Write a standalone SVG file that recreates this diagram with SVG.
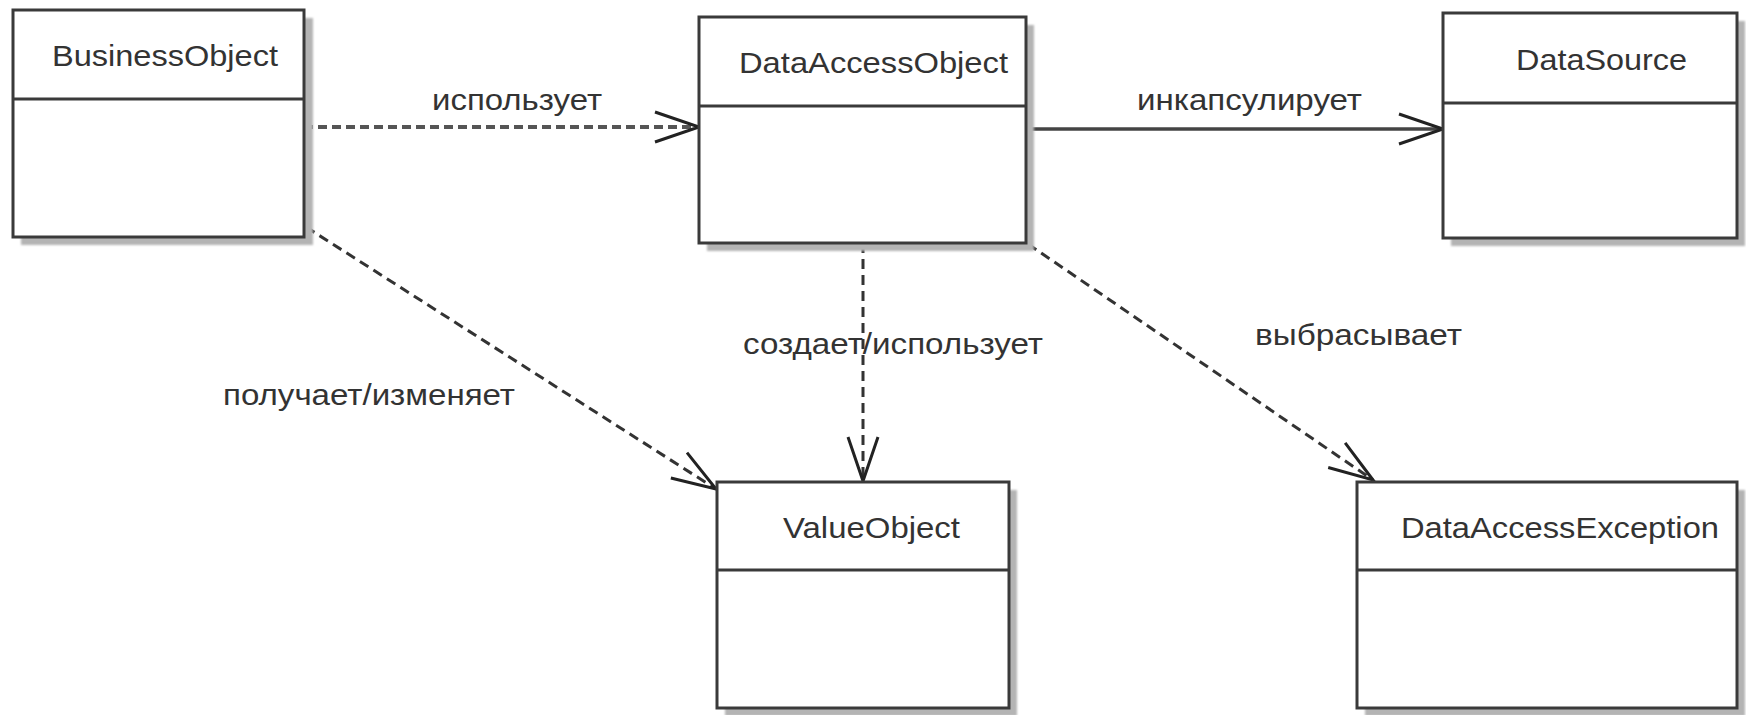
<svg xmlns="http://www.w3.org/2000/svg" width="1746" height="715" viewBox="0 0 1746 715">
  <style>
    .box { fill: #ffffff; stroke: #3a3a3a; stroke-width: 3; }
    .shadow { fill: #b4b4b4; filter: url(#blur); }
    .div { stroke: #3a3a3a; stroke-width: 3; }
    .cls { font-family: "Liberation Sans", Arial, sans-serif; font-size: 29px; fill: #333333; }
    .lbl { font-family: "Liberation Sans", Arial, sans-serif; font-size: 29px; fill: #333333; }
    .dash { fill: none; stroke: #333333; stroke-width: 3; stroke-dasharray: 10 6; }
    .dash2 { fill: none; stroke: #555555; stroke-width: 4; stroke-dasharray: 9 5; }
    .solid { fill: none; stroke: #444444; stroke-width: 3.5; }
  </style>
  <defs>
    <filter id="blur" x="-5%" y="-5%" width="110%" height="110%">
      <feGaussianBlur stdDeviation="1"/>
    </filter>
    <marker id="open" markerUnits="userSpaceOnUse" viewBox="-47 -18 49 36" refX="0" refY="0" markerWidth="49" markerHeight="36" orient="auto" overflow="visible">
      <path d="M -44 -15 L 0 0 L -44 15" fill="none" stroke="#222222" stroke-width="3" stroke-dasharray="none"/>
    </marker>
  </defs>
  <rect width="1746" height="715" fill="#ffffff"/>

  <g id="connectors">
    <line class="dash2" x1="304" y1="127" x2="699" y2="127" marker-end="url(#open)"/>
    <line class="solid" x1="1026" y1="129" x2="1443" y2="129" marker-end="url(#open)"/>
    <line class="dash" x1="306" y1="227" x2="716" y2="489" marker-end="url(#open)"/>
    <line class="dash" x1="863" y1="243" x2="863" y2="481" marker-end="url(#open)"/>
    <line class="dash" x1="1028" y1="244" x2="1373" y2="480" marker-end="url(#open)"/>
    <text class="lbl" x="432" y="110" textLength="170" lengthAdjust="spacingAndGlyphs">использует</text>
    <text class="lbl" x="1137" y="110" textLength="225" lengthAdjust="spacingAndGlyphs">инкапсулирует</text>
    <text class="lbl" x="743" y="354" textLength="300" lengthAdjust="spacingAndGlyphs">создает/использует</text>
    <text class="lbl" x="1255" y="345" textLength="207" lengthAdjust="spacingAndGlyphs">выбрасывает</text>
    <text class="lbl" x="223" y="405" textLength="292" lengthAdjust="spacingAndGlyphs">получает/изменяет</text>
  </g>

  <g id="BusinessObject">
    <rect class="shadow" x="21" y="18" width="292" height="227"/>
    <rect class="box" x="13" y="10" width="291" height="227"/>
    <line class="div" x1="13" y1="99" x2="304" y2="99"/>
    <text class="cls" x="52" y="66" textLength="226" lengthAdjust="spacingAndGlyphs">BusinessObject</text>
  </g>

  <g id="DataAccessObject">
    <rect class="shadow" x="707" y="25" width="327" height="226"/>
    <rect class="box" x="699" y="17" width="327" height="226"/>
    <line class="div" x1="699" y1="106" x2="1026" y2="106"/>
    <text class="cls" x="739" y="73" textLength="269" lengthAdjust="spacingAndGlyphs">DataAccessObject</text>
  </g>

  <g id="DataSource">
    <rect class="shadow" x="1451" y="21" width="294" height="225"/>
    <rect class="box" x="1443" y="13" width="294" height="225"/>
    <line class="div" x1="1443" y1="103" x2="1737" y2="103"/>
    <text class="cls" x="1516" y="70" textLength="171" lengthAdjust="spacingAndGlyphs">DataSource</text>
  </g>

  <g id="ValueObject">
    <rect class="shadow" x="725" y="490" width="292" height="226"/>
    <rect class="box" x="717" y="482" width="292" height="226"/>
    <line class="div" x1="717" y1="570" x2="1009" y2="570"/>
    <text class="cls" x="783" y="538" textLength="177" lengthAdjust="spacingAndGlyphs">ValueObject</text>
  </g>

  <g id="DataAccessException">
    <rect class="shadow" x="1365" y="490" width="380" height="226"/>
    <rect class="box" x="1357" y="482" width="380" height="226"/>
    <line class="div" x1="1357" y1="570" x2="1737" y2="570"/>
    <text class="cls" x="1401" y="538" textLength="318" lengthAdjust="spacingAndGlyphs">DataAccessException</text>
  </g>
</svg>
